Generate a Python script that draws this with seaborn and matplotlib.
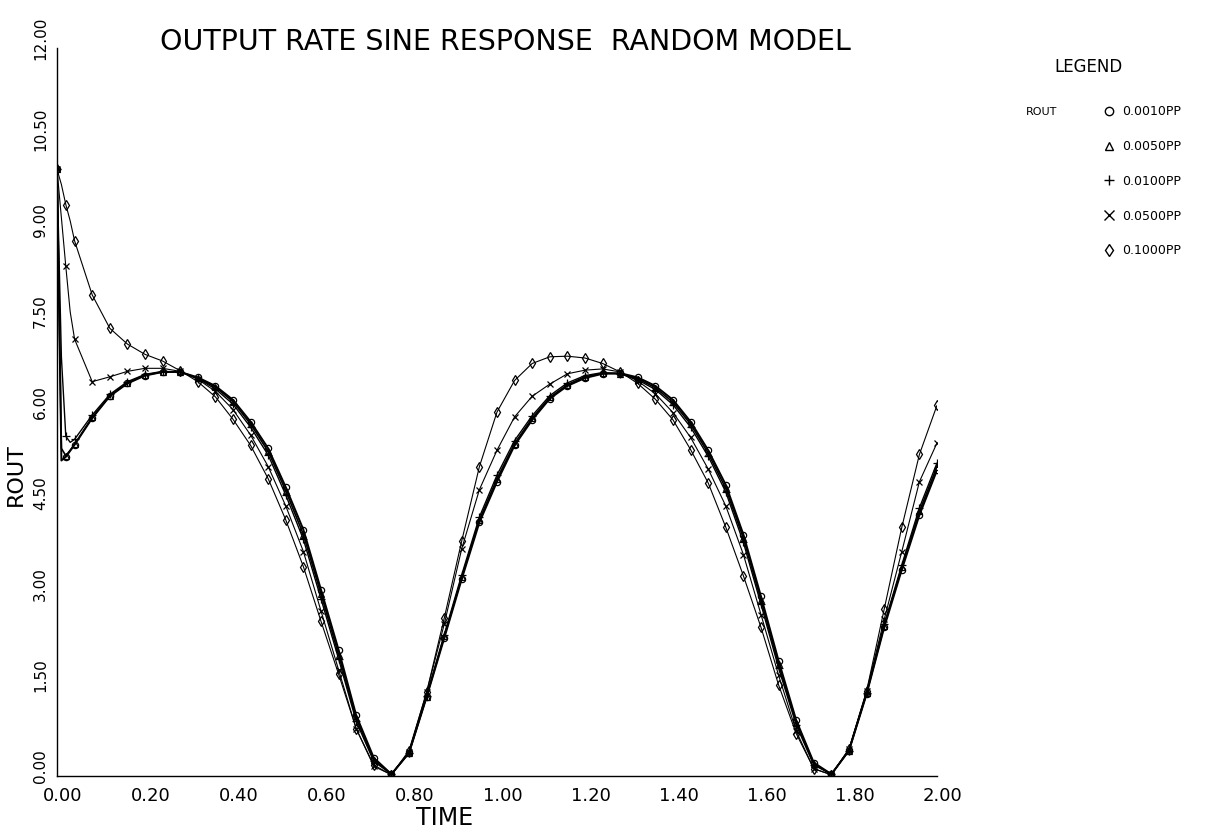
import matplotlib
matplotlib.use("Agg")
import matplotlib.pyplot as plt
import matplotlib.transforms as mtransforms
from matplotlib.lines import Line2D
import seaborn as sns
import pandas as pd

# ---------------- data ----------------
TIME = [0.00, 0.01, 0.02, 0.03, 0.04, 0.08, 0.12, 0.16, 0.20, 0.24, 0.28, 0.32,
        0.36, 0.40, 0.44, 0.48, 0.52, 0.56, 0.60, 0.64, 0.68, 0.72, 0.76, 0.80,
        0.84, 0.88, 0.92, 0.96, 1.00, 1.04, 1.08, 1.12, 1.16, 1.20, 1.24, 1.28,
        1.32, 1.36, 1.40, 1.44, 1.48, 1.52, 1.56, 1.60, 1.64, 1.68, 1.72, 1.76,
        1.80, 1.84, 1.88, 1.92, 1.96, 2.00]

ROUT_0001 = [10.0, 5.20, 5.26, 5.36, 5.46, 5.90, 6.26, 6.47, 6.60, 6.66, 6.66, 6.57,
             6.43, 6.20, 5.84, 5.40, 4.76, 4.06, 3.07, 2.08, 1.00, 0.30, 0.03, 0.38,
             1.30, 2.27, 3.25, 4.18, 4.85, 5.45, 5.87, 6.22, 6.43, 6.56, 6.63, 6.64,
             6.57, 6.43, 6.20, 5.84, 5.37, 4.80, 3.98, 2.96, 1.90, 0.92, 0.22, 0.03,
             0.42, 1.35, 2.45, 3.40, 4.30, 5.04]
ROUT_0005 = [10.0, 5.40, 5.28, 5.37, 5.47, 5.91, 6.27, 6.48, 6.61, 6.66, 6.66, 6.56,
             6.41, 6.17, 5.80, 5.35, 4.70, 3.98, 3.00, 2.00, 0.95, 0.27, 0.03, 0.38,
             1.31, 2.30, 3.28, 4.22, 4.90, 5.48, 5.90, 6.24, 6.45, 6.58, 6.64, 6.63,
             6.55, 6.40, 6.16, 5.80, 5.32, 4.74, 3.92, 2.90, 1.84, 0.88, 0.20, 0.03,
             0.42, 1.36, 2.48, 3.44, 4.36, 5.10]
ROUT_0010 = [10.0, 6.90, 5.60, 5.50, 5.55, 5.95, 6.29, 6.50, 6.62, 6.67, 6.66, 6.55,
             6.38, 6.13, 5.75, 5.29, 4.63, 3.90, 2.92, 1.93, 0.90, 0.24, 0.03, 0.38,
             1.32, 2.33, 3.32, 4.27, 4.96, 5.53, 5.94, 6.27, 6.48, 6.60, 6.65, 6.63,
             6.53, 6.37, 6.12, 5.75, 5.27, 4.68, 3.85, 2.83, 1.78, 0.84, 0.18, 0.03,
             0.42, 1.37, 2.50, 3.48, 4.42, 5.16]
ROUT_0050 = [10.0, 9.20, 8.40, 7.65, 7.20, 6.50, 6.58, 6.67, 6.72, 6.72, 6.67, 6.54,
             6.34, 6.04, 5.62, 5.10, 4.45, 3.70, 2.72, 1.75, 0.78, 0.16, 0.02, 0.40,
             1.38, 2.50, 3.75, 4.72, 5.37, 5.92, 6.26, 6.46, 6.63, 6.69, 6.71, 6.66,
             6.51, 6.30, 5.99, 5.58, 5.06, 4.45, 3.65, 2.66, 1.66, 0.74, 0.12, 0.02,
             0.44, 1.40, 2.58, 3.70, 4.85, 5.49]
ROUT_0100 = [10.0, 9.75, 9.42, 9.15, 8.82, 7.93, 7.38, 7.12, 6.95, 6.84, 6.68, 6.50,
             6.25, 5.88, 5.45, 4.90, 4.22, 3.45, 2.55, 1.68, 0.78, 0.18, 0.02, 0.42,
             1.38, 2.60, 3.88, 5.10, 6.00, 6.52, 6.80, 6.91, 6.92, 6.89, 6.80, 6.66,
             6.47, 6.21, 5.87, 5.38, 4.83, 4.10, 3.30, 2.45, 1.50, 0.70, 0.12, 0.02,
             0.45, 1.40, 2.75, 4.10, 5.30, 6.11]

SERIES_LABELS = ["0.0010PP", "0.0050PP", "0.0100PP", "0.0500PP", "0.1000PP"]
SERIES_VALUES = [ROUT_0001, ROUT_0005, ROUT_0010, ROUT_0050, ROUT_0100]

X_TICKS = [0.00, 0.20, 0.40, 0.60, 0.80, 1.00, 1.20, 1.40, 1.60, 1.80, 2.00]
Y_TICKS = [0.00, 1.50, 3.00, 4.50, 6.00, 7.50, 9.00, 10.50, 12.00]

# ---------------- styling ----------------
sns.set_style("white")
plt.rcParams["font.family"] = ["DejaVu Sans"]
plt.rcParams["text.color"] = "black"
plt.rcParams["xtick.color"] = "black"
plt.rcParams["ytick.color"] = "black"

MARKERS = ["o", "^", "+", "x", "d"]
FILLS = ["none", "none", "black", "black", "none"]
SIZES = [4.5, 4.5, 6, 5, 5]
LWS = [1.4, 1.2, 1.0, 0.8, 0.8]

fig = plt.figure(figsize=(12.21, 8.31), dpi=100)
ax = fig.add_axes([57 / 1221, 1 - 776 / 831, (937 - 57) / 1221, (776 - 48) / 831])

mark_idx = [0, 2] + list(range(4, len(TIME)))
for lab, vals, mk, fc, ms, lw in zip(SERIES_LABELS, SERIES_VALUES, MARKERS, FILLS, SIZES, LWS):
    df = pd.DataFrame({"TIME": TIME, "ROUT": vals})
    sns.lineplot(data=df, x="TIME", y="ROUT", ax=ax, color="black", lw=lw,
                 marker=mk, markersize=ms, markerfacecolor=fc,
                 markeredgecolor="black", markeredgewidth=0.9,
                 markevery=mark_idx, estimator=None, sort=False)

ax.set_xlim(0, 2.0)
ax.set_ylim(0, 12.0)
ax.set_xticks(X_TICKS)
ax.set_yticks(Y_TICKS)
ax.set_xticklabels([f"{v:.2f}" for v in X_TICKS], fontsize=13)
ax.set_yticklabels([f"{v:.2f}" for v in Y_TICKS], fontsize=11, rotation=90, va="center")
ax.tick_params(axis="x", direction="in", length=5, width=1, pad=8, colors="black")
ax.tick_params(axis="y", direction="out", length=4.5, width=1, pad=2, colors="black")

off_x = mtransforms.ScaledTranslation(0.06, 0, fig.dpi_scale_trans)
for t in ax.get_xticklabels():
    t.set_transform(t.get_transform() + off_x)
off_y = mtransforms.ScaledTranslation(0, 0.10, fig.dpi_scale_trans)
for t in ax.get_yticklabels():
    t.set_transform(t.get_transform() + off_y)

for s in ["top", "right"]:
    ax.spines[s].set_visible(False)
for s in ["left", "bottom"]:
    ax.spines[s].set_color("black")
    ax.spines[s].set_linewidth(1.0)

ax.set_xlabel("")
ax.set_ylabel("")
fig.text(445 / 1221, 1 - 818 / 831, "TIME", ha="center", va="center", fontsize=17)
fig.text(16 / 1221, 1 - 475 / 831, "ROUT", ha="center", va="center", fontsize=16, rotation=90)
fig.text(505 / 1221, 1 - 42 / 831, "OUTPUT RATE SINE RESPONSE  RANDOM MODEL",
         ha="center", va="center", fontsize=20.5)

# legend
fig.text(1088 / 1221, 1 - 67 / 831, "LEGEND", ha="center", va="center", fontsize=12)
fig.text(1026 / 1221, 1 - 112 / 831, "ROUT", ha="left", va="center", fontsize=8)
handles = [Line2D([], [], linestyle="none", marker=mk, markersize=ms + 1.5,
                  markerfacecolor=fc, markeredgecolor="black", markeredgewidth=1.0,
                  color="black")
           for mk, fc, ms in zip(MARKERS, FILLS, SIZES)]
fig.legend(handles, SERIES_LABELS, loc="upper left",
           bbox_to_anchor=(1103 / 1221, 1 - 105 / 831), frameon=False,
           fontsize=9, handlelength=1.0, handletextpad=0.5, labelspacing=1.75,
           borderaxespad=0, borderpad=0)

fig.savefig("out.png", dpi=100, facecolor="white")
